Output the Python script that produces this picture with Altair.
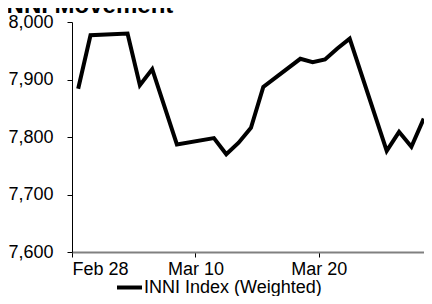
import altair as alt
import pandas as pd

dates = ["2022-02-28", "2022-03-01", "2022-03-04", "2022-03-05", "2022-03-06",
         "2022-03-08", "2022-03-11", "2022-03-12", "2022-03-13", "2022-03-14",
         "2022-03-15", "2022-03-18", "2022-03-19", "2022-03-20", "2022-03-21",
         "2022-03-22", "2022-03-25", "2022-03-26", "2022-03-27", "2022-03-28"]
values = [7884, 7977, 7980, 7890, 7918,
          7787, 7798, 7770, 7790, 7816,
          7887, 7936, 7930, 7935, 7954,
          7971, 7776, 7809, 7783, 7832]
series_name = "INNI Index (Weighted)"
title_text = "INNI Movement"
y_ticks = [7600, 7700, 7800, 7900, 8000]

df = pd.DataFrame({
    "date": [d + "T12:00:00Z" for d in dates],
    "value": values,
    "series": [series_name] * len(values),
})

x_ticks = [alt.DateTime(year=2022, month=2, date=28, utc=True),
           alt.DateTime(year=2022, month=3, date=10, utc=True),
           alt.DateTime(year=2022, month=3, date=20, utc=True)]

chart = alt.Chart(df).mark_line(strokeWidth=4, color="black").encode(
    x=alt.X("date:T",
            scale=alt.Scale(type="utc",
                            domain=[alt.DateTime(year=2022, month=2, date=28, utc=True),
                                    alt.DateTime(year=2022, month=3, date=28, hours=12,
                                                 minutes=30, utc=True)]),
            axis=alt.Axis(values=x_ticks, labelExpr="utcFormat(datum.value, '%b %d')",
                          title=None,
                          domainColor="#808080", domainWidth=2, tickColor="black",
                          tickSize=5, labelFontSize=18, labelColor="black",
                          labelPadding=3, grid=False)),
    y=alt.Y("value:Q",
            scale=alt.Scale(domain=[7600, 8000], nice=False, zero=False),
            axis=alt.Axis(values=y_ticks, format=",d", title=None,
                          domainColor="black", domainWidth=1, tickColor="black",
                          tickSize=5, labelFontSize=18, labelColor="black",
                          labelPadding=14, grid=False)),
    color=alt.Color("series:N",
                    scale=alt.Scale(domain=[series_name], range=["black"]),
                    legend=alt.Legend(title=None, orient="none", legendX=43, legendY=251,
                                      symbolType="stroke", symbolSize=625,
                                      symbolStrokeWidth=4, labelFontSize=18,
                                      labelOffset=0, padding=0, labelColor="black",
                                      labelLimit=0)),
).properties(
    width=352,
    height=230,
    title=alt.TitleParams(title_text, anchor="start", fontSize=24, fontWeight="bold",
                          font="Liberation Sans", color="black", offset=0,
                          baseline="alphabetic", dx=-8, dy=24),
    autosize=alt.AutoSizeParams(type="none"),
    padding={"left": 64, "top": 14, "right": 0, "bottom": 44},
).configure(
    font="Liberation Sans",
).configure_view(
    stroke=None,
)

chart.save("out.html", embed_options={"renderer": "svg", "actions": False})
